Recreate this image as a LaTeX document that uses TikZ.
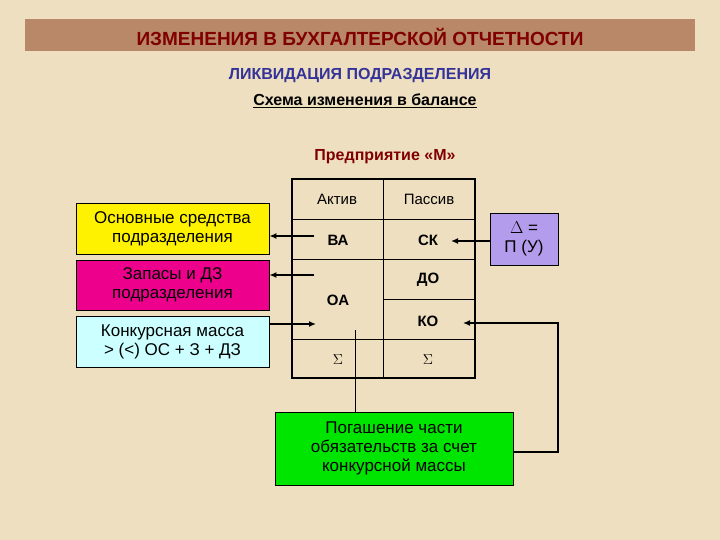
\documentclass[tikz,border=0pt]{standalone}
\usepackage{fontspec}
\setmainfont{Liberation Sans}
\usetikzlibrary{arrows.meta}
\definecolor{bg}{HTML}{EEDFC0}
\definecolor{bar}{HTML}{B88868}
\definecolor{dred}{HTML}{800000}
\definecolor{navy}{HTML}{333399}
\definecolor{lil}{HTML}{B49CEC}
\definecolor{cyanl}{HTML}{CCFFFF}
\begin{document}
\begin{tikzpicture}[x=1pt,y=-1pt,
  box/.style={draw=black,line width=0.8pt,align=center,font=\fontsize{17}{19}\selectfont,inner sep=0pt},
  cell/.style={font=\fontsize{15}{17}\selectfont},
  bcell/.style={font=\bfseries\fontsize{15}{17}\selectfont},
  arr/.style={-{Latex[length=7pt,width=6pt]},line width=1.5pt}]
\fill[bg] (0,0) rectangle (720,540);
\useasboundingbox (0,0) rectangle (720,540);
\fill[bar] (25,19) rectangle (695,51);
\node[text=dred,font=\bfseries\fontsize{19}{21}\selectfont] (title) at (360,37) {ИЗМЕНЕНИЯ В БУХГАЛТЕРСКОЙ ОТЧЕТНОСТИ};
\node[text=navy,font=\bfseries\fontsize{16}{18}\selectfont] (sub) at (360,76) {ЛИКВИДАЦИЯ ПОДРАЗДЕЛЕНИЯ};
\node[font=\bfseries\fontsize{16}{18}\selectfont] (sch) at (365,101) {\underline{Схема изменения в балансе}};
\node[text=dred,font=\bfseries\fontsize{16}{18}\selectfont] (ent) at (385,157) {Предприятие «М»};
% table
\draw[line width=2pt] (292,179) rectangle (475,378);
\draw[line width=0.8pt] (383,179) -- (383,378);
\draw[line width=0.8pt] (292,219) -- (475,219);
\draw[line width=0.8pt] (292,259) -- (475,259);
\draw[line width=0.8pt] (383,299) -- (475,299);
\draw[line width=0.8pt] (292,339) -- (475,339);
\node[cell] (akt) at (337,199) {Актив};
\node[cell] (pas) at (429,199) {Пассив};
\node[bcell] (va) at (338,240) {ВА};
\node[bcell] (sk) at (428,240) {СК};
\node[bcell] (do) at (428,280) {ДО};
\node[bcell] (oa) at (338,300) {ОА};
\node[bcell] (ko) at (428,321) {КО};
\node[cell] (s1) at (338,360) {$\Sigma$};
\node[cell] (s2) at (428,360) {$\Sigma$};
% left boxes
\node[box,fill=yellow,minimum width=193pt,minimum height=51pt] (b1) at (172.5,228.5) {Основные средства\\подразделения};
\node[box,fill=magenta,minimum width=193pt,minimum height=50pt] (b2) at (172.5,285) {Запасы и ДЗ\\подразделения};
\node[box,fill=cyanl,minimum width=193pt,minimum height=51pt] (b3) at (172.5,341.5) {Конкурсная масса\\> (<) ОС + З + ДЗ};
\coordinate (c1) at (314,236);
\coordinate (c2) at (314,275);
\coordinate (c3) at (316,324);
\draw[arr] (c1) -- (b1.east |- c1);
\draw[arr] (c2) -- (b2.east |- c2);
\draw[arr] (b3.east |- c3) -- (c3);
% delta
\node[box,fill=lil,minimum width=68pt,minimum height=52pt] (d) at (524,239) {$\Delta$ =\\П (У)};
\coordinate (skt) at (451,241);
\draw[arr] (d.west |- skt) -- (skt);
% green
\node[box,fill=green!90!black,minimum width=238pt,minimum height=73pt] (g) at (394,448.5) {Погашение части\\обязательств за счет\\конкурсной массы};
\coordinate (kot) at (463,323);
\draw[arr] (g.east |- 0,452) -- (558,452) -- (558,323) -- (kot);
\coordinate (gl) at (355,330);
\draw[line width=0.8pt] (g.north -| gl) -- (gl);
\end{tikzpicture}
\end{document}
